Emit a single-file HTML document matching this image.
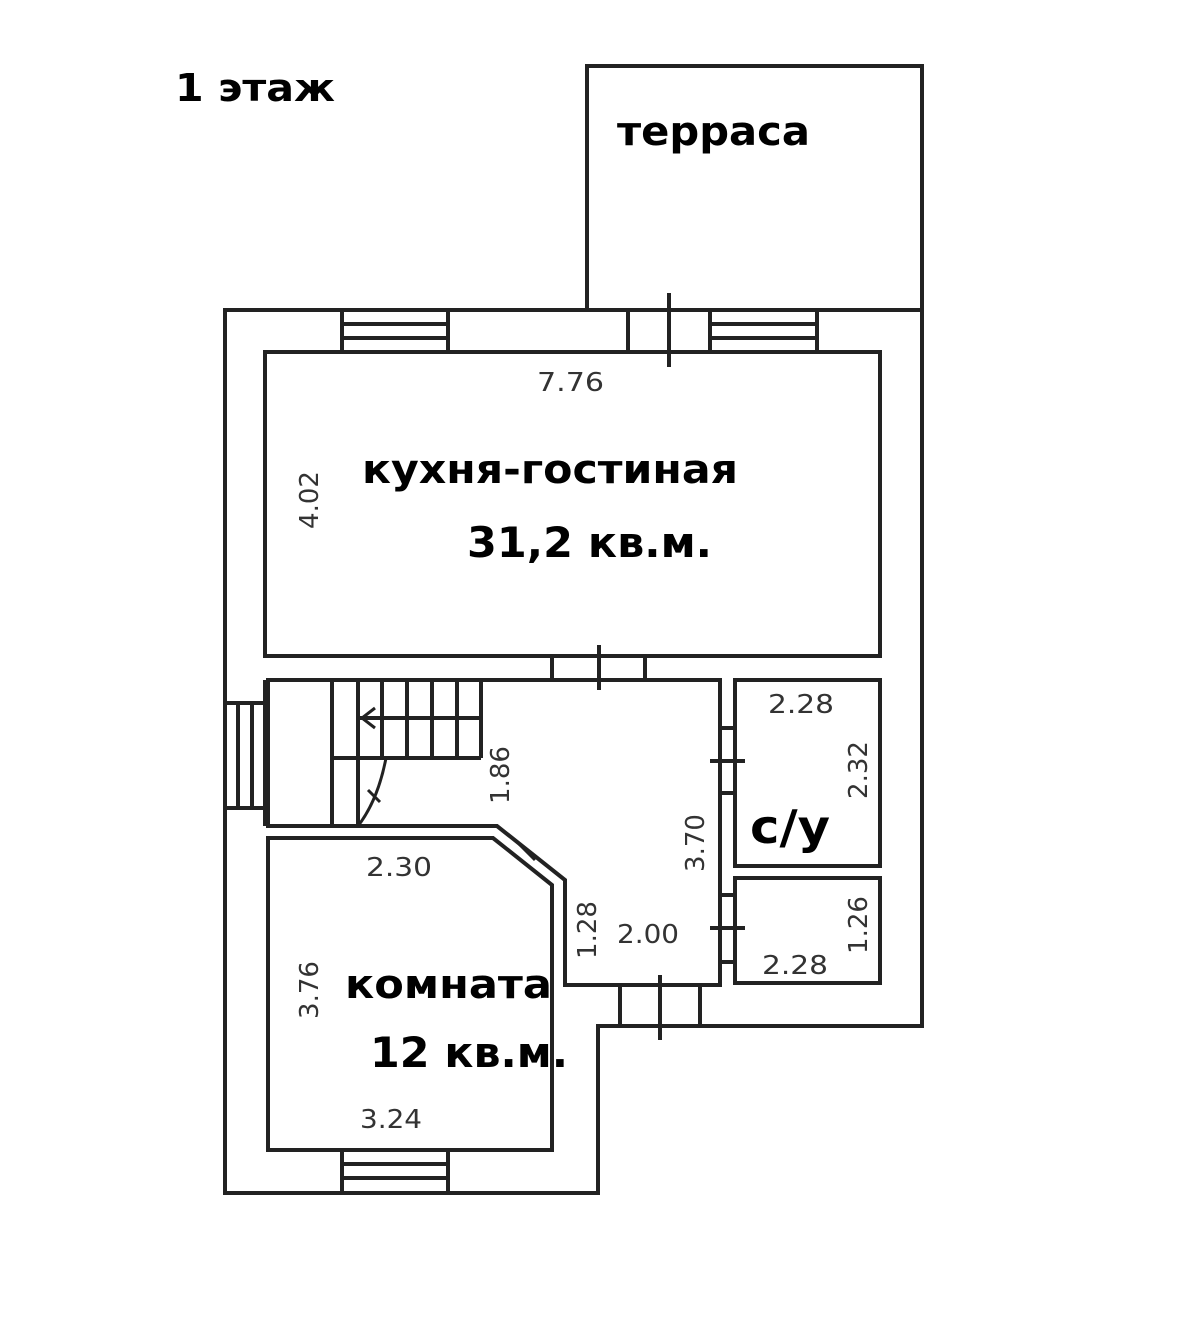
<!DOCTYPE html>
<html><head><meta charset="utf-8"><style>
html,body{margin:0;padding:0;background:#fff}
svg{display:block}
.b{font-family:"DejaVu Sans","Liberation Sans",sans-serif;font-weight:bold;fill:#000}
.d{font-family:"DejaVu Sans","Liberation Sans",sans-serif;fill:#333;font-size:26px}
</style></head><body>
<svg width="1200" height="1326" viewBox="0 0 1200 1326" xmlns="http://www.w3.org/2000/svg">
<g fill="none" stroke="#222" stroke-width="4">
<path d="M587 310 V66 H922 V310"/>
<path d="M225 310 H922 V1026 H598 V1193 H225 Z"/>
<rect x="265" y="352" width="615" height="304"/>
<path d="M342 310 V352 M448 310 V352 M342 324 H448 M342 338 H448"/>
<path d="M710 310 V352 M817 310 V352 M710 324 H817 M710 338 H817"/>
<path d="M628 310 V352 M669 293 V367"/>
<path d="M552 656 V680 M645 656 V680 M599 645 V690"/>
<path d="M268 680 H720 V985 H565 V880 L497 826 H268 Z"/>
<path d="M225 703 H265 M225 808 H265 M265 680 V826 M238 703 V808 M252 703 V808"/>
<path d="M332 680 V826 M358 680 V826 M382 680 V758 M407 680 V758 M432 680 V758 M457 680 V758 M481 680 V758 M358 718 H481 M332 758 H481"/>
<path d="M358 826 Q378 800 386 758" stroke-width="3"/>
<path d="M375 708 L362 718 L375 728 M368 790 L380 802" stroke-width="3"/>
<path d="M268 838 H493 L552 885 V1150 H268 Z"/>
<path d="M515 840 L535 860" stroke-width="3"/>
<path d="M342 1150 V1193 M448 1150 V1193 M342 1164 H448 M342 1178 H448"/>
<path d="M620 985 V1026 M700 985 V1026 M660 975 V1040"/>
<rect x="735" y="680" width="145" height="186"/>
<rect x="735" y="878" width="145" height="105"/>
<path d="M720 728 H735 M720 793 H735 M710 761 H745 M720 895 H735 M720 962 H735 M710 928 H745"/>
</g>
<text class="b" x="175" y="101" font-size="38" textLength="160" lengthAdjust="spacingAndGlyphs">1 этаж</text>
<text class="b" x="617" y="145" font-size="40" textLength="193" lengthAdjust="spacingAndGlyphs">терраса</text>
<text class="b" x="362" y="483" font-size="40" textLength="376" lengthAdjust="spacingAndGlyphs">кухня-гостиная</text>
<text class="b" x="467" y="557" font-size="42" textLength="245" lengthAdjust="spacingAndGlyphs">31,2 кв.м.</text>
<text class="b" x="345" y="998" font-size="40" textLength="207" lengthAdjust="spacingAndGlyphs">комната</text>
<text class="b" x="370" y="1067" font-size="42" textLength="198" lengthAdjust="spacingAndGlyphs">12 кв.м.</text>
<text class="b" x="750" y="843" font-size="46" textLength="80" lengthAdjust="spacingAndGlyphs">с/у</text>
<text class="d" x="537" y="391" textLength="67" lengthAdjust="spacingAndGlyphs">7.76</text>
<text class="d" transform="translate(318,500) rotate(-90)" text-anchor="middle">4.02</text>
<text class="d" transform="translate(509,775) rotate(-90)" text-anchor="middle">1.86</text>
<text class="d" transform="translate(704,843) rotate(-90)" text-anchor="middle">3.70</text>
<text class="d" x="366" y="876" textLength="66" lengthAdjust="spacingAndGlyphs">2.30</text>
<text class="d" transform="translate(596,930) rotate(-90)" text-anchor="middle">1.28</text>
<text class="d" x="617" y="943" textLength="62" lengthAdjust="spacingAndGlyphs">2.00</text>
<text class="d" transform="translate(318,990) rotate(-90)" text-anchor="middle">3.76</text>
<text class="d" x="360" y="1128" textLength="62" lengthAdjust="spacingAndGlyphs">3.24</text>
<text class="d" x="768" y="713" textLength="66" lengthAdjust="spacingAndGlyphs">2.28</text>
<text class="d" transform="translate(867,770) rotate(-90)" text-anchor="middle">2.32</text>
<text class="d" x="762" y="974" textLength="66" lengthAdjust="spacingAndGlyphs">2.28</text>
<text class="d" transform="translate(867,925) rotate(-90)" text-anchor="middle">1.26</text>
</svg>
</body></html>
